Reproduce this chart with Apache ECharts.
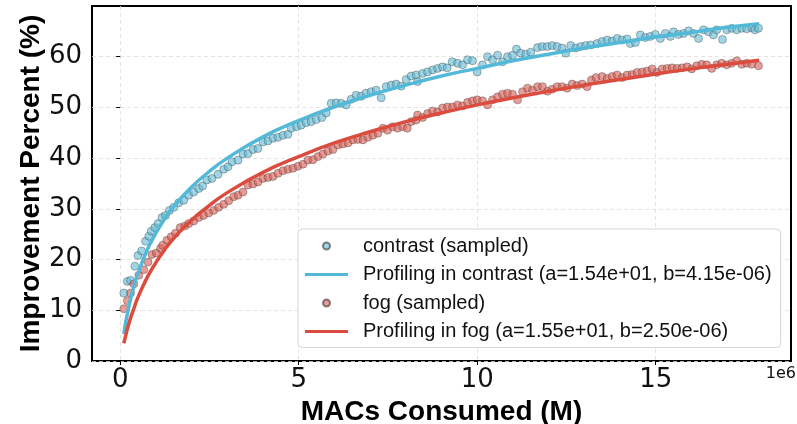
<!DOCTYPE html>
<html>
<head>
<meta charset="utf-8">
<script src="https://cdn.jsdelivr.net/npm/echarts@6/dist/echarts.min.js"></script>
<style>
  html, body { margin: 0; padding: 0; background: #fff; }
  #chart { width: 797px; height: 424px; }
</style>
</head>
<body>
<div id="chart"></div>
<script>
// sampled points, x in millions of MACs
const contrastMacs = [0.1, 0.2, 0.29, 0.41, 0.5, 0.6, 0.71, 0.8, 0.87, 0.97, 1.06, 1.17, 1.27, 1.38, 1.5, 1.64, 1.78, 1.92, 2.06, 2.2, 2.31, 2.43, 2.57, 2.74, 2.9, 3.02, 3.13, 3.3, 3.44, 3.58, 3.72, 3.86, 4.0, 4.14, 4.28, 4.42, 4.56, 4.7, 4.79, 4.94, 5.07, 5.21, 5.35, 5.49, 5.65, 5.77, 5.91, 6.05, 6.19, 6.33, 6.47, 6.61, 6.75, 6.88, 7.03, 7.17, 7.31, 7.45, 7.59, 7.73, 7.87, 8.01, 8.15, 8.29, 8.33, 8.47, 8.61, 8.75, 8.89, 9.03, 9.16, 9.3, 9.45, 9.59, 9.73, 9.87, 10.0, 10.15, 10.29, 10.43, 10.57, 10.71, 10.85, 10.99, 11.1, 11.22, 11.36, 11.5, 11.69, 11.82, 11.96, 12.1, 12.24, 12.38, 12.48, 12.62, 12.76, 12.9, 13.04, 13.18, 13.36, 13.5, 13.64, 13.78, 13.92, 14.06, 14.2, 14.29, 14.43, 14.57, 14.71, 14.85, 14.99, 15.13, 15.27, 15.41, 15.5, 15.64, 15.78, 15.92, 16.06, 16.2, 16.34, 16.48, 16.62, 16.71, 16.87, 16.99, 17.13, 17.27, 17.41, 17.55, 17.69, 17.78, 17.88]
const contrastGain = [13.4, 15.7, 15.9, 18.7, 20.8, 21.7, 23.6, 24.6, 25.6, 26.3, 27.1, 28.3, 28.7, 29.7, 30.3, 31.2, 31.7, 32.7, 33.3, 34.0, 34.5, 35.7, 36.0, 36.8, 37.8, 38.3, 39.3, 39.6, 40.8, 40.9, 41.7, 41.9, 43.2, 43.4, 43.9, 44.1, 44.5, 44.7, 45.9, 46.2, 46.5, 47.0, 47.2, 47.6, 48.0, 48.9, 50.8, 50.9, 50.8, 50.5, 51.6, 52.4, 52.2, 52.8, 53.1, 53.4, 51.9, 54.1, 54.4, 54.6, 54.2, 55.5, 56.2, 56.4, 55.1, 56.7, 57.0, 57.4, 57.7, 58.0, 57.8, 59.0, 58.7, 58.4, 59.4, 59.2, 57.0, 58.4, 60.0, 59.4, 60.3, 59.0, 60.0, 60.3, 61.5, 60.7, 60.5, 60.9, 61.8, 62.0, 62.0, 62.2, 62.0, 61.7, 60.7, 62.2, 61.7, 62.0, 62.2, 62.3, 62.6, 63.0, 63.3, 63.1, 63.6, 63.3, 63.5, 62.6, 62.8, 64.3, 63.8, 64.0, 64.4, 63.6, 64.6, 64.0, 64.9, 64.4, 64.6, 65.1, 64.6, 63.6, 65.3, 64.9, 64.3, 65.3, 63.4, 65.3, 65.6, 65.3, 65.6, 65.5, 65.7, 65.3, 65.6]

const fogMacs = [0.1, 0.2, 0.29, 0.38, 0.52, 0.66, 0.78, 0.89, 1.01, 1.13, 1.19, 1.31, 1.43, 1.55, 1.68, 1.81, 1.92, 2.06, 2.2, 2.34, 2.48, 2.62, 2.76, 2.9, 3.04, 3.18, 3.3, 3.44, 3.58, 3.72, 3.86, 4.0, 4.14, 4.28, 4.42, 4.56, 4.7, 4.84, 4.98, 5.12, 5.26, 5.4, 5.54, 5.68, 5.82, 5.96, 6.1, 6.24, 6.38, 6.52, 6.66, 6.8, 6.94, 7.08, 7.22, 7.36, 7.49, 7.63, 7.77, 7.91, 8.04, 8.15, 8.29, 8.33, 8.47, 8.61, 8.75, 8.89, 9.03, 9.17, 9.31, 9.45, 9.59, 9.73, 9.87, 10.0, 10.15, 10.29, 10.43, 10.57, 10.71, 10.85, 10.99, 11.13, 11.27, 11.41, 11.55, 11.69, 11.83, 11.97, 12.1, 12.24, 12.38, 12.52, 12.66, 12.8, 12.94, 13.08, 13.2, 13.33, 13.5, 13.64, 13.78, 13.92, 14.06, 14.2, 14.34, 14.48, 14.62, 14.76, 14.9, 15.03, 15.18, 15.32, 15.46, 15.6, 15.74, 15.88, 16.01, 16.15, 16.29, 16.43, 16.57, 16.71, 16.85, 16.99, 17.13, 17.27, 17.41, 17.55, 17.69, 17.88]
const fogGain = [10.3, 11.9, 13.4, 15.2, 16.9, 18.0, 19.5, 21.0, 21.3, 22.2, 22.8, 23.8, 24.5, 25.2, 26.3, 26.6, 27.1, 27.6, 28.3, 28.7, 29.2, 29.7, 30.3, 30.9, 31.6, 32.4, 32.7, 33.3, 34.7, 34.9, 35.3, 36.0, 36.2, 36.4, 37.0, 37.5, 37.8, 38.0, 38.4, 38.8, 39.6, 39.7, 40.3, 40.8, 41.4, 41.7, 42.6, 42.8, 43.0, 43.6, 43.7, 43.6, 44.1, 44.5, 44.9, 45.9, 45.5, 46.2, 45.9, 46.2, 45.9, 47.2, 47.5, 48.5, 48.0, 48.8, 49.3, 49.1, 49.9, 50.1, 50.1, 50.5, 50.3, 51.0, 51.3, 51.5, 51.3, 50.5, 51.5, 52.1, 52.6, 52.8, 52.6, 51.5, 53.1, 53.8, 53.4, 54.1, 54.1, 53.2, 53.6, 54.1, 54.1, 53.8, 54.6, 54.3, 54.6, 54.1, 55.4, 55.9, 56.1, 55.7, 56.1, 56.4, 55.9, 56.4, 56.5, 56.9, 57.0, 57.2, 57.6, 56.9, 57.6, 57.7, 57.8, 57.7, 57.8, 58.0, 57.6, 58.2, 58.5, 58.4, 57.7, 58.4, 58.7, 58.4, 58.7, 59.2, 58.5, 58.7, 58.5, 58.2]

// fitted curves
const fitMacs = [0.1, 0.15, 0.2, 0.3, 0.4, 0.5, 0.75, 1, 1.25, 1.5, 2, 2.5, 3, 4, 5, 6, 7, 8, 9, 10, 11, 12, 13, 14, 15, 16, 17, 17.9]
const contrastFit = [5.3, 7.5, 9.3, 12.5, 15.1, 17.3, 21.8, 25.2, 28.1, 30.5, 34.3, 37.4, 40.0, 44.2, 47.4, 50.1, 52.4, 54.4, 56.2, 57.7, 59.2, 60.5, 61.7, 62.8, 63.9, 64.8, 65.8, 66.5]
const fogFit = [3.5, 4.9, 6.3, 8.7, 10.7, 12.6, 16.4, 19.4, 22.0, 24.2, 27.8, 30.7, 33.2, 37.2, 40.3, 43.0, 45.2, 47.2, 48.9, 50.5, 51.9, 53.2, 54.4, 55.5, 56.6, 57.6, 58.5, 59.3]

const xTicks = [0, 5, 10, 15]
const yTicks = [0, 10, 20, 30, 40, 50, 60]

const seriesNames = [
  'contrast (sampled)',
  'Profiling in contrast (a=1.54e+01, b=4.15e-06)',
  'fog (sampled)',
  'Profiling in fog (a=1.55e+01, b=2.50e-06)',
]

const blueDot = 'rgba(102,188,214,0.78)'
const blueLine = '#52b9d8'
const redDot = 'rgba(216,98,88,0.78)'
const redLine = '#dc4c3e'

const zip = (xs, ys) => xs.map((x, i) => [x, ys[i]])

let chart = echarts.init(document.getElementById('chart'))

let tickFont = { fontFamily: 'DejaVu Sans', fontSize: 26, color: '#111' }
let titleFont = { fontFamily: 'Liberation Sans', fontWeight: 'bold', fontSize: 28, color: '#000' }

let option = {
  animation: false,
  grid: {
    left: 92,
    top: 6,
    right: 6,
    bottom: 63,
    outerBoundsMode: 'none',
    show: true,
    borderColor: '#000',
    borderWidth: 2,
    backgroundColor: 'transparent',
  },
  xAxis: {
    type: 'value',
    min: -0.79,
    max: 18.79,
    name: 'MACs Consumed (M)',
    nameLocation: 'middle',
    nameMoveOverlap: false,
    nameGap: 37,
    nameTextStyle: titleFont,
    axisLine: { show: false },
    axisTick: { show: true, length: 4, lineStyle: { color: '#000' }, customValues: xTicks },
    axisLabel: { ...tickFont, margin: 6, customValues: xTicks },
    splitLine: { show: true, lineStyle: { color: '#ddd', type: [4, 3], width: 0.8 } },
  },
  yAxis: {
    type: 'value',
    min: 0,
    max: 70,
    interval: 10,
    name: 'Improvement Percent (%)',
    nameLocation: 'middle',
    nameMoveOverlap: false,
    nameGap: 47,
    nameTextStyle: titleFont,
    axisLine: { show: false },
    axisTick: { show: true, length: 4, lineStyle: { color: '#000' }, customValues: yTicks },
    axisLabel: { ...tickFont, margin: 10, customValues: yTicks },
    splitLine: { show: true, lineStyle: { color: '#ddd', type: [4, 3], width: 0.8 } },
  },
  legend: {
    left: 298,
    top: 229,
    orient: 'vertical',
    padding: [7, 9, 6, 7],
    itemGap: 8.5,
    itemWidth: 43,
    itemHeight: 7,
    backgroundColor: '#fff',
    borderColor: '#d6d6d6',
    borderWidth: 1,
    borderRadius: 4,
    textStyle: { fontFamily: 'Liberation Sans', fontSize: 20, color: '#111', lineHeight: 20, padding: [0, 0, 0, 10] },
    data: [
      { name: seriesNames[0], icon: 'circle' },
      { name: seriesNames[1], icon: 'path://M0 0H40V3H0Z' },
      { name: seriesNames[2], icon: 'circle' },
      { name: seriesNames[3], icon: 'path://M0 0H40V3H0Z' },
    ],
  },
  graphic: [
    {
      type: 'text',
      right: 1,
      top: 366,
      style: { text: '1e6', font: '16px "DejaVu Sans"', fill: '#111' },
    },
  ],
  series: [
    {
      name: seriesNames[0],
      type: 'scatter',
      symbolSize: 8,
      itemStyle: { color: blueDot, borderColor: 'rgba(40,40,40,0.7)', borderWidth: 0.6 },
      data: zip(contrastMacs, contrastGain),
    },
    {
      name: seriesNames[1],
      type: 'line',
      smooth: true,
      symbol: 'none',
      color: blueLine,
      lineStyle: { color: blueLine, width: 3.5 },
      data: zip(fitMacs, contrastFit),
    },
    {
      name: seriesNames[2],
      type: 'scatter',
      symbolSize: 8,
      itemStyle: { color: redDot, borderColor: 'rgba(40,40,40,0.7)', borderWidth: 0.6 },
      data: zip(fogMacs, fogGain),
    },
    {
      name: seriesNames[3],
      type: 'line',
      smooth: true,
      symbol: 'none',
      color: redLine,
      lineStyle: { color: redLine, width: 3.5 },
      data: zip(fitMacs, fogFit),
    },
  ],
}

chart.setOption(option)
</script>
</body>
</html>
